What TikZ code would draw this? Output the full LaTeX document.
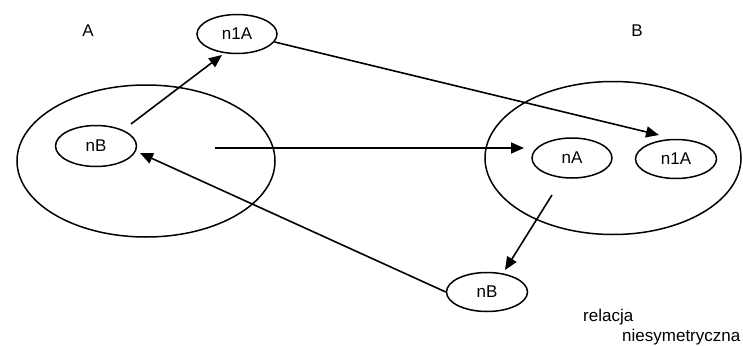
\documentclass[tikz,border=0pt]{standalone}
\usepackage{fontspec}
\setmainfont{Liberation Sans}
\usetikzlibrary{shapes.geometric,arrows.meta}
\begin{document}
\begin{tikzpicture}[x=1pt,y=-1pt,
  font=\fontsize{17}{20}\selectfont,
  setbox/.style={draw,ellipse,line width=1.5pt,inner sep=0pt},
  elem/.style={draw,ellipse,line width=1.5pt,inner sep=0pt,
    minimum width=81pt,minimum height=39pt},
  arr/.style={line width=1.6pt,-{Triangle[length=13pt,width=11pt]}}]
\useasboundingbox (0,0) rectangle (743,345);

% the two sets
\node[setbox,minimum width=258pt,minimum height=152pt] (setA) at (146,161) {};
\node[setbox,minimum width=256pt,minimum height=153pt] (setB) at (613,158) {};
\node (labA) at (88,31) {A};
\node (labB) at (637,31) {B};

% elements
\node[elem,minimum height=41pt] (nBa) at (96,146) {nB};
\node[elem,minimum width=80pt] (n1Aa) at (237,34) {n1A};
\node[elem,minimum width=80pt,minimum height=40pt] (nAb) at (572,158) {nA};
\node[elem] (n1Ab) at (676,159) {n1A};
\node[elem] (nBc) at (487,292) {nB};

% free ends of the connectors
\coordinate (s1) at (131,124);
\coordinate (t1) at (222,55);
\coordinate (s2) at (215,148);
\coordinate (t2) at (524,148);
\coordinate (t3) at (659,135);
\coordinate (s4) at (552,195);
\coordinate (t4) at (505,270);
\coordinate (t5) at (140,153);

\draw[arr] (s1) -- (t1);
\draw[arr] (s2) -- (t2);
\draw[arr] (n1Aa.-12) -- (t3);
\draw[arr] (s4) -- (t4);
\draw[arr] (nBc.west) -- (t5);

% caption
\node[anchor=base west,inner sep=0pt] (cap1) at (583,321) {relacja};
\node[anchor=base west,inner sep=0pt] (cap2) at (622,341) {niesymetryczna};
\end{tikzpicture}
\end{document}
